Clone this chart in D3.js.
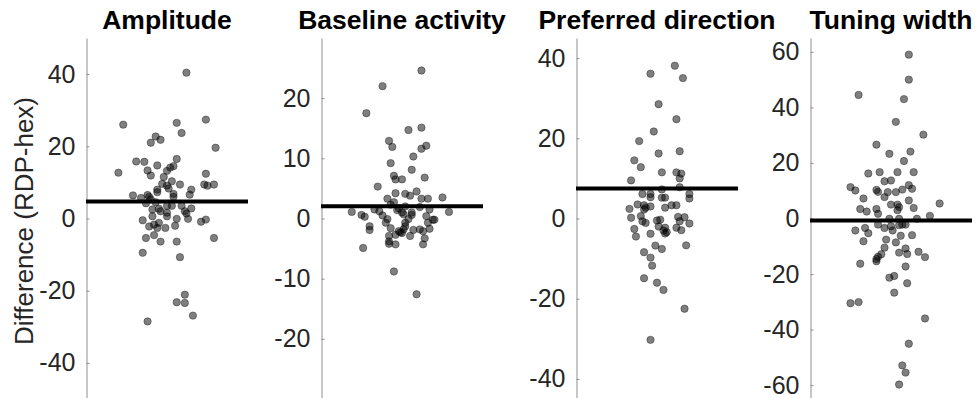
<!DOCTYPE html>
<html>
<head>
<meta charset="utf-8">
<script src="https://cdn.jsdelivr.net/npm/d3@7"></script>
<style>
  body { margin: 0; background: #fff; }
  text { font-family: "Liberation Sans", Helvetica, Arial, sans-serif; }
</style>
</head>
<body>
<div id="chart"></div>
<script>
const WIDTH = 980;
const HEIGHT = 398;

// panel titles, y ranges and ticks
const titles = ["Amplitude", "Baseline activity", "Preferred direction", "Tuning width"];
const yDomains = [[-50, 50], [-30, 30], [-45, 45], [-65, 65]];
const yTicks = [
  [-40, -20, 0, 20, 40],
  [-20, -10, 0, 10, 20],
  [-40, -20, 0, 20, 40],
  [-60, -40, -20, 0, 20, 40, 60]
];
const means = [4.7, 2.05, 7.5, -0.7];

// jitter position (0..1 across the axes) and difference value of each cell
const ampX = [0.62,0.23,0.56,0.74,0.59,0.43,0.46,0.40,0.80,0.56,0.31,0.36,0.20,0.44,0.54,0.52,0.50,0.38,0.40,0.74,
  0.48,0.53,0.47,0.50,0.58,0.73,0.75,0.79,0.51,0.44,0.44,0.65,0.64,0.54,0.29,0.34,0.38,0.39,0.40,0.54,
  0.37,0.43,0.41,0.45,0.50,0.53,0.59,0.65,0.46,0.50,0.61,0.62,0.41,0.50,0.56,0.63,0.35,0.71,0.74,0.42,
  0.39,0.45,0.44,0.49,0.55,0.37,0.42,0.79,0.46,0.56,0.35,0.58,0.61,0.56,0.61,0.66,0.38];
const ampY = [40.4,26.0,26.5,27.4,23.7,22.7,21.8,21.0,19.6,16.5,15.8,15.7,12.7,14.7,14.5,14.1,13.2,13.3,11.9,12.4,
  11.5,10.3,9.6,9.1,9.4,9.4,9.1,9.4,8.3,8.0,7.3,8.0,6.6,6.8,6.4,5.7,6.5,6.0,5.3,6.0,
  4.2,4.5,2.5,2.7,3.5,3.5,3.5,2.8,2.0,1.6,2.0,1.4,0.6,0.6,-0.1,-0.1,-0.5,-0.9,-0.3,-1.7,
  -2.2,-1.2,-2.6,-2.6,-2.0,-5.4,-4.6,-5.4,-6.4,-6.4,-9.5,-10.7,-21.1,-23.2,-23.4,-26.9,-28.5];

const baseX = [0.62,0.38,0.28,0.54,0.62,0.42,0.44,0.62,0.65,0.57,0.43,0.56,0.45,0.46,0.50,0.64,0.35,0.59,0.46,0.52,
  0.55,0.41,0.62,0.66,0.75,0.45,0.43,0.52,0.61,0.48,0.19,0.79,0.33,0.36,0.47,0.50,0.56,0.67,0.25,0.27,
  0.38,0.51,0.56,0.65,0.41,0.69,0.70,0.66,0.40,0.54,0.30,0.30,0.52,0.43,0.52,0.48,0.49,0.51,0.57,0.61,
  0.63,0.67,0.46,0.50,0.55,0.42,0.42,0.42,0.46,0.64,0.63,0.26,0.45,0.59];
const baseY = [24.6,22.0,17.5,14.7,15.1,12.9,11.9,11.6,12.1,10.3,9.2,8.1,7.1,6.5,6.5,6.8,5.3,4.5,4.2,4.1,
  3.8,3.3,3.3,3.3,3.5,2.7,2.3,2.0,1.9,1.7,1.1,1.1,1.5,1.2,1.4,1.0,1.0,1.5,0.6,0.3,
  0.5,0.7,0.6,0.4,-0.1,-0.2,-0.2,-0.7,-0.7,-0.1,-1.3,-1.9,-0.7,-1.6,-1.3,-2.1,-2.3,-1.8,-1.9,-1.8,
  -2.1,-1.7,-2.7,-2.4,-2.9,-2.9,-3.8,-4.2,-4.3,-3.3,-4.3,-4.9,-8.8,-12.6];

const prefX = [0.61,0.46,0.66,0.51,0.62,0.48,0.39,0.51,0.64,0.36,0.40,0.53,0.62,0.65,0.64,0.34,0.64,0.41,0.46,0.53,
  0.70,0.70,0.46,0.53,0.55,0.33,0.38,0.42,0.43,0.46,0.59,0.62,0.55,0.42,0.34,0.40,0.41,0.43,0.50,0.52,
  0.63,0.67,0.64,0.70,0.51,0.55,0.54,0.56,0.55,0.62,0.65,0.36,0.37,0.46,0.68,0.49,0.53,0.42,0.46,0.47,
  0.42,0.50,0.54,0.67,0.46];
const prefY = [38.1,36.1,35.0,28.5,24.75,21.7,19.3,16.2,16.75,14.5,12.8,11.5,11.5,11.2,10.0,9.5,7.8,6.1,6.1,7.25,
  6.1,5.0,5.3,5.2,5.2,2.4,3.5,3.3,2.7,3.0,3.3,3.3,2.7,2.25,0.2,0.6,-0.7,-1.1,-0.5,-0.3,
  0.4,0.3,-0.7,-1.25,-2.0,-2.3,-3.0,-3.4,-3.75,-2.3,-2.9,-2.6,-4.5,-3.8,-6.7,-6.75,-7.6,-8.4,-9.75,-11.75,
  -14.9,-16.0,-17.8,-22.5,-30.25];

const tuneX = [0.61,0.61,0.30,0.58,0.53,0.70,0.41,0.49,0.62,0.58,0.36,0.43,0.54,0.64,0.46,0.50,0.25,0.28,0.41,0.42,
  0.48,0.53,0.57,0.61,0.63,0.46,0.33,0.61,0.50,0.54,0.55,0.54,0.80,0.31,0.35,0.41,0.42,0.64,0.74,0.49,
  0.55,0.66,0.42,0.46,0.50,0.55,0.57,0.59,0.28,0.34,0.36,0.51,0.56,0.63,0.33,0.47,0.53,0.46,0.55,0.59,
  0.60,0.67,0.71,0.44,0.42,0.41,0.41,0.31,0.59,0.49,0.52,0.60,0.52,0.25,0.30,0.71,0.61,0.57,0.59,0.55];
const tuneY = [59.0,50.0,44.5,43.0,34.8,30.2,26.6,23.3,24.1,20.7,16.2,16.7,16.7,16.7,13.4,13.7,11.3,10.1,10.3,9.6,
  9.5,9.5,10.4,12.0,10.7,7.7,7.2,6.5,5.0,5.0,4.1,3.0,5.4,3.4,2.5,3.4,1.7,3.8,0.96,-0.1,
  -0.1,-0.1,-2.2,-3.4,-2.8,-2.4,-2.2,-2.2,-4.3,-3.4,-5.3,-4.3,-6.2,-6.0,-8.2,-7.6,-8.6,-10.5,-12.3,-10.8,
  -12.8,-12.0,-13.9,-12.9,-13.8,-14.6,-15.4,-16.3,-17.3,-21.3,-20.7,-23.3,-26.7,-30.5,-30.1,-36.0,-45.1,-52.9,-55.5,-59.8];

const panelX = [ampX, baseX, prefX, tuneX];
const panelY = [ampY, baseY, prefY, tuneY];

// axes layout
const axLeft = [86, 321, 576, 810];
const axWidth = 162;
const axTop = 38;
const axBottom = 399;

let svg = d3.select("#chart").append("svg")
    .attr("width", WIDTH)
    .attr("height", HEIGHT);

titles.forEach(function(title, i) {
  let xScale = d3.scaleLinear().domain([0, 1]).range([axLeft[i], axLeft[i] + axWidth]);
  let yScale = d3.scaleLinear().domain(yDomains[i]).range([axBottom, axTop]);
  let g = svg.append("g").classed("panel", true);

  // y axis, ticks point inward, plain hyphen for negatives
  let yAxis = d3.axisLeft(yScale)
      .tickValues(yTicks[i])
      .tickFormat(function(d) { return String(d); })
      .tickSizeInner(-3)
      .tickSizeOuter(0)
      .tickPadding(11);
  let axisG = g.append("g")
      .attr("transform", "translate(" + (axLeft[i] + 0.5) + ",0)")
      .call(yAxis);
  axisG.select(".domain").attr("stroke", "#8f8f8f");
  axisG.selectAll(".tick line").attr("stroke", "#8f8f8f");
  axisG.selectAll(".tick text")
      .attr("fill", "#262626")
      .style("font-size", "25px");

  // dots
  let pts = panelY[i].map(function(v, k) { return {x: panelX[i][k], y: v}; });
  g.append("g").selectAll("circle")
      .data(pts).enter()
      .append("circle")
      .attr("cx", function(d) { return xScale(d.x); })
      .attr("cy", function(d) { return yScale(d.y); })
      .attr("r", 3.7)
      .attr("fill", "#000")
      .attr("fill-opacity", 0.5)
      .attr("stroke", "#000")
      .attr("stroke-opacity", 0.45)
      .attr("stroke-width", 0.8);

  // mean line
  g.append("line")
      .attr("x1", xScale(0))
      .attr("x2", xScale(1))
      .attr("y1", yScale(means[i]))
      .attr("y2", yScale(means[i]))
      .attr("stroke", "#000")
      .attr("stroke-width", 4);

  // title
  g.append("text")
      .attr("x", xScale(0.5))
      .attr("y", 29)
      .attr("text-anchor", "middle")
      .style("font-size", "26.5px")
      .style("font-weight", "bold")
      .attr("fill", "#000")
      .text(title);
});

// shared y label
svg.append("text")
    .attr("transform", "translate(33," + 221 + ") rotate(-90)")
    .attr("text-anchor", "middle")
    .style("font-size", "26px")
    .attr("fill", "#262626")
    .text("Difference (RDP-hex)");
</script>
</body>
</html>
